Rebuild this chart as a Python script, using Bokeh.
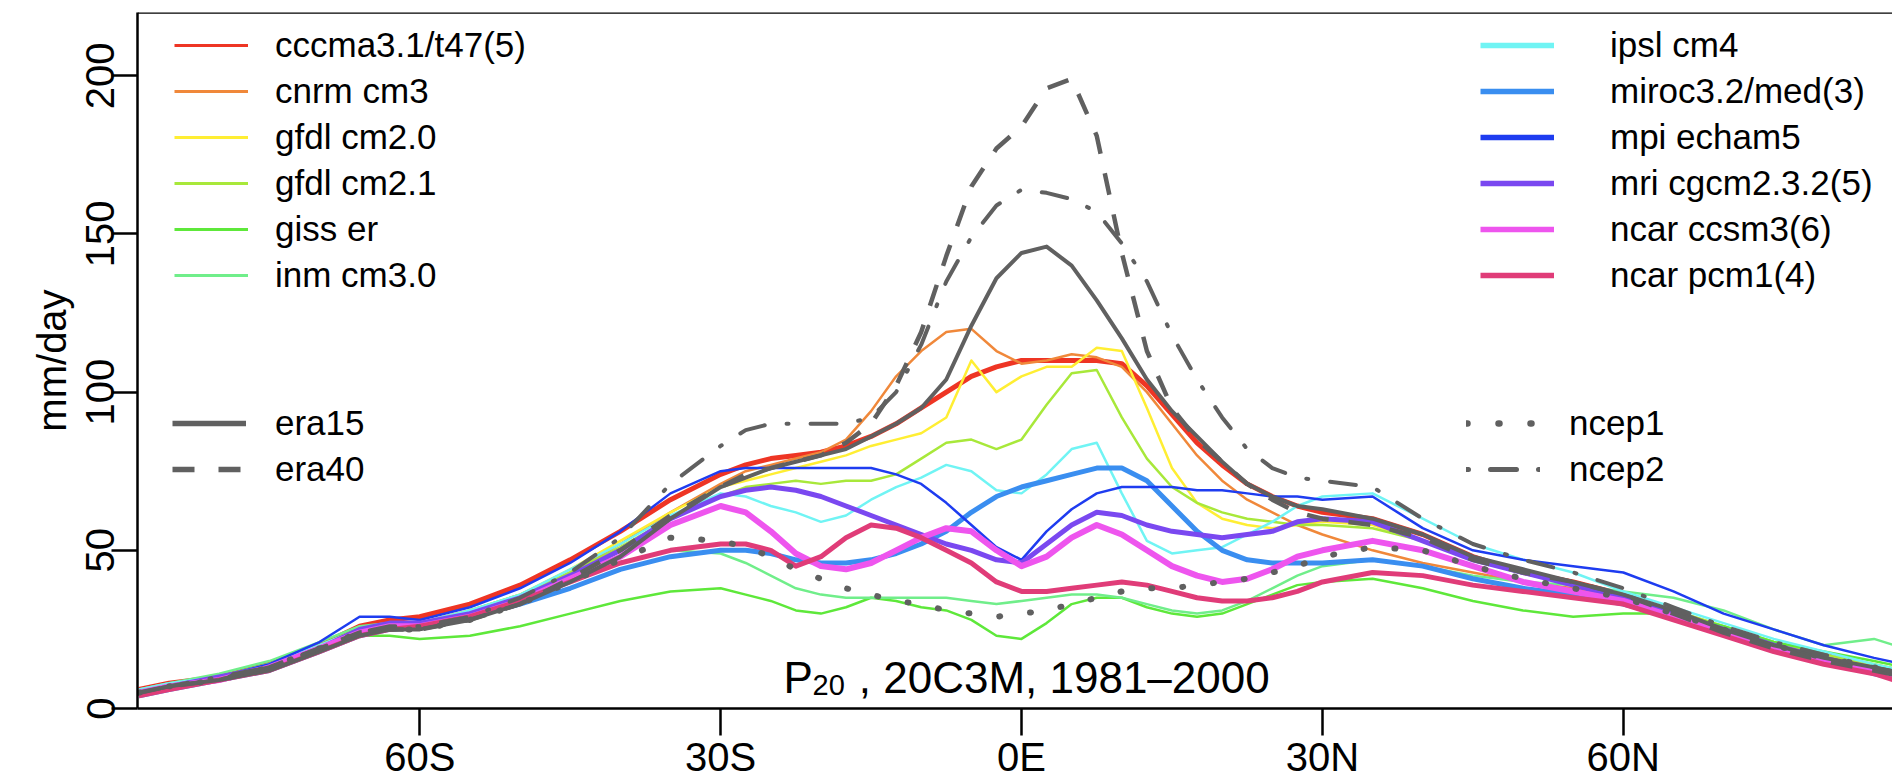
from bokeh.plotting import figure
from bokeh.models import Legend, LegendItem, Label, Span, FixedTicker, Range1d, ColumnDataSource
from bokeh.embed import file_html
from bokeh.resources import INLINE

# ---------------- data ----------------
LAT = [-88, -85, -80, -75, -70, -66, -63, -60, -55, -50, -45, -40, -35, -30,
       -27.5, -25, -22.5, -20, -17.5, -15, -12.5, -10, -7.5, -5, -2.5, 0,
       2.5, 5, 7.5, 10, 12.5, 15, 17.5, 20, 22.5, 25, 27.5, 30,
       35, 40, 45, 50, 55, 60, 65, 70, 75, 80, 85, 88]

CCCMA = [6, 8, 10, 14, 20, 26, 28, 29, 33, 39, 47, 56, 66, 74,
         77, 79, 80, 81, 83, 86, 90, 95, 100, 105, 108, 110,
         110, 110, 110, 109, 102, 93, 84, 77, 71, 67, 64, 62,
         60, 55, 48, 43, 40, 36, 30, 25, 20, 17, 13, 11]
CNRM = [5, 7, 9, 13, 19, 24, 26, 26, 30, 35, 43, 52, 62, 71,
        75, 77, 79, 81, 85, 94, 105, 113, 119, 120, 113, 109,
        110, 112, 111, 108, 100, 90, 80, 72, 66, 62, 58, 55,
        50, 46, 43, 40, 38, 35, 30, 25, 20, 16, 13, 11]
GFDL20 = [5, 7, 10, 13, 19, 25, 27, 27, 31, 36, 44, 53, 62, 70,
          72, 74, 76, 78, 80, 83, 85, 87, 92, 110, 100, 105,
          108, 108, 114, 113, 95, 76, 65, 60, 58, 57, 58, 59,
          58, 53, 47, 43, 40, 36, 31, 26, 21, 17, 14, 12]
GFDL21 = [5, 7, 10, 14, 20, 25, 27, 27, 31, 36, 43, 51, 60, 67,
          70, 71, 72, 71, 72, 72, 74, 79, 84, 85, 82, 85,
          96, 106, 107, 92, 79, 70, 65, 62, 60, 59, 58, 58,
          57, 53, 47, 43, 40, 36, 31, 26, 21, 17, 14, 12]
GISS = [5, 7, 10, 14, 19, 23, 23, 22, 23, 26, 30, 34, 37, 38,
        36, 34, 31, 30, 32, 35, 34, 32, 31, 28, 23, 22,
        27, 33, 35, 35, 32, 30, 29, 30, 33, 36, 39, 40,
        41, 38, 34, 31, 29, 30, 30, 26, 21, 18, 15, 13]
INM = [6, 8, 11, 15, 21, 26, 27, 27, 30, 34, 40, 46, 50, 49,
       46, 42, 38, 36, 35, 35, 35, 35, 35, 34, 33, 34,
       35, 36, 36, 35, 33, 31, 30, 31, 34, 38, 42, 45,
       47, 45, 42, 40, 39, 37, 35, 31, 25, 20, 22, 19]
IPSL = [6, 8, 10, 14, 20, 25, 27, 27, 31, 36, 44, 52, 61, 68,
        67, 64, 62, 59, 61, 66, 70, 73, 77, 75, 69, 68,
        74, 82, 84, 68, 53, 49, 50, 51, 55, 59, 64, 67,
        68, 60, 52, 47, 43, 37, 32, 27, 22, 18, 14, 12]
MIROC = [4, 6, 9, 12, 18, 23, 25, 26, 29, 33, 38, 44, 48, 50,
         50, 49, 47, 46, 46, 47, 49, 52, 56, 62, 67, 70,
         72, 74, 76, 76, 72, 64, 56, 50, 47, 46, 46, 46,
         47, 45, 41, 38, 36, 33, 29, 24, 19, 15, 11, 9]
MPI = [4, 7, 10, 14, 21, 29, 29, 28, 32, 38, 46, 56, 68, 75,
       76, 76, 76, 76, 76, 76, 74, 71, 65, 58, 51, 47,
       56, 63, 68, 70, 70, 70, 69, 69, 68, 67, 67, 66,
       67, 57, 50, 47, 45, 43, 37, 30, 25, 20, 16, 14]
MRI = [5, 7, 10, 13, 19, 25, 27, 27, 30, 35, 42, 50, 60, 67,
       69, 70, 69, 67, 64, 61, 58, 55, 52, 50, 47, 46,
       52, 58, 62, 61, 58, 56, 55, 54, 55, 56, 59, 60,
       59, 53, 47, 43, 39, 35, 30, 25, 20, 16, 12, 10]
CCSM3 = [5, 7, 9, 13, 19, 24, 26, 26, 29, 34, 41, 48, 58, 64,
         62, 56, 49, 45, 44, 46, 50, 54, 57, 56, 50, 45,
         48, 54, 58, 55, 50, 45, 42, 40, 41, 44, 48, 50,
         53, 50, 45, 40, 37, 34, 29, 24, 19, 15, 12, 10]
PCM1 = [4, 6, 9, 12, 18, 23, 25, 26, 29, 34, 40, 46, 50, 52,
        52, 50, 45, 48, 54, 58, 57, 54, 50, 46, 40, 37,
        37, 38, 39, 40, 39, 37, 35, 34, 34, 35, 37, 40,
        43, 42, 39, 37, 35, 33, 28, 23, 18, 14, 11, 8]
ERA15 = [5, 7, 9, 12, 18, 23, 25, 25, 28, 33, 40, 48, 60, 70,
         73, 76, 78, 80, 82, 86, 90, 95, 104, 121, 136, 144,
         146, 140, 129, 117, 104, 94, 86, 78, 71, 67, 64, 63,
         60, 55, 48, 44, 40, 36, 31, 25, 20, 16, 13, 11]
ERA40 = [5, 7, 9, 13, 19, 24, 25, 25, 28, 33, 41, 50, 61, 70,
         74, 76, 78, 80, 84, 90, 102, 119, 143, 165, 177, 184,
         196, 199, 181, 144, 113, 95, 85, 78, 71, 66, 62, 60,
         58, 54, 47, 43, 40, 36, 30, 24, 19, 15, 12, 10]
NCEP1 = [5, 7, 9, 13, 19, 24, 25, 25, 28, 33, 40, 47, 54, 53,
         51, 48, 44, 41, 38, 36, 34, 33, 31, 30, 29, 30,
         31, 33, 35, 37, 38, 38, 39, 40, 41, 43, 45, 48,
         51, 50, 45, 41, 38, 35, 30, 25, 20, 16, 13, 11]
NCEP2 = [5, 7, 10, 13, 19, 24, 26, 26, 29, 35, 43, 54, 71, 83,
         88, 90, 90, 90, 90, 92, 100, 115, 135, 149, 159, 164,
         163, 161, 157, 147, 135, 118, 104, 92, 82, 76, 73, 72,
         70, 60, 52, 47, 43, 38, 32, 26, 21, 17, 13, 11]

MODEL_NAMES = ["cccma3.1/t47(5)", "cnrm cm3", "gfdl cm2.0", "gfdl cm2.1", "giss er", "inm cm3.0",
               "ipsl cm4", "miroc3.2/med(3)", "mpi echam5", "mri cgcm2.3.2(5)", "ncar ccsm3(6)",
               "ncar pcm1(4)"]
MODEL_VALUES = [CCCMA, CNRM, GFDL20, GFDL21, GISS, INM, IPSL, MIROC, MPI, MRI, CCSM3, PCM1]
REAN_NAMES = ["era15", "era40", "ncep1", "ncep2"]
REAN_VALUES = [ERA15, ERA40, NCEP1, NCEP2]

XTICKS = [-60, -30, 0, 30, 60]
XTICK_LABELS = ["60S", "30S", "0E", "30N", "60N"]
YTICKS = [0, 50, 100, 150, 200]

# ---------------- styles ----------------
MODEL_COLORS = ["#EE3524", "#F0883A", "#FFEE33", "#A8E83A", "#5EE83A", "#70EE8A",
                "#70F4F4", "#3A8EF0", "#1E3CF0", "#7A48F0", "#EE55EE", "#E03C78"]
MODEL_WIDTHS = [5, 2.5, 2.5, 2.5, 2.5, 2.5, 2.5, 5, 2.5, 5, 6, 5]
LEGEND_WIDTHS = [3, 3, 3, 3, 3, 3, 5.5, 5.5, 5.5, 5.5, 5.5, 5.5]
GRAY = "#606060"
REAN_STYLE = [dict(line_width=4, line_dash="solid"),
              dict(line_width=4.5, line_dash="22 20"),
              dict(line_width=6, line_dash="1 30", line_cap="round"),
              dict(line_width=4, line_dash="2 22 26 22", line_cap="round")]
REAN_LEGEND_STYLE = [dict(line_width=5.5, line_dash="solid"),
                     dict(line_width=5.5, line_dash="22 24"),
                     dict(line_width=6.5, line_dash="1 31", line_cap="round"),
                     dict(line_width=5, line_dash="2 22 26 22", line_cap="round")]
FONT = "Liberation Sans"

p = figure(width=1892, height=783, output_backend="svg", toolbar_location=None,
           x_range=Range1d(-88.14, 86.84), y_range=Range1d(0, 220),
           min_border_left=137, min_border_right=0, min_border_top=12, min_border_bottom=75)
p.outline_line_color = None
p.grid.visible = False

model_r, model_leg = [], []
for name, vals, col, lw, llw in zip(MODEL_NAMES, MODEL_VALUES, MODEL_COLORS, MODEL_WIDTHS,
                                     LEGEND_WIDTHS):
    src = ColumnDataSource(dict(x=LAT, y=vals))
    r = p.line("x", "y", source=src, line_color=col, line_width=lw, line_join="round")
    model_r.append(r)
    # legend-only swatch (same data, hidden in the plot) so the key line width matches
    lr = p.line("x", "y", source=src, line_color=col, line_width=llw, visible=False)
    model_leg.append(lr)

rean_r, rean_leg = [], []
for name, vals, st, lst in zip(REAN_NAMES, REAN_VALUES, REAN_STYLE, REAN_LEGEND_STYLE):
    src = ColumnDataSource(dict(x=LAT, y=vals))
    r = p.line("x", "y", source=src, line_color=GRAY, line_join="round", **st)
    rean_r.append(r)
    lr = p.line("x", "y", source=src, line_color=GRAY, visible=False, **lst)
    rean_leg.append(lr)

# axes
p.xaxis.ticker = FixedTicker(ticks=XTICKS)
p.xaxis.major_label_overrides = {t: l for t, l in zip(XTICKS, XTICK_LABELS)}
p.yaxis.ticker = FixedTicker(ticks=YTICKS)
p.yaxis.major_label_orientation = "vertical"
p.yaxis.axis_label = "mm/day"
for ax, tout, so in ((p.xaxis[0], 27, -1), (p.yaxis[0], 26, -3)):
    ax.axis_line_width = 2.5
    ax.axis_line_color = "black"
    ax.major_tick_line_width = 2.5
    ax.major_tick_line_color = "black"
    ax.major_tick_in = 0
    ax.major_tick_out = tout
    ax.minor_tick_line_color = None
    ax.major_label_text_font = FONT
    ax.major_label_text_font_size = "40px"
    ax.major_label_text_color = "black"
    ax.major_label_standoff = so
p.yaxis.axis_label_text_font = FONT
p.yaxis.axis_label_text_font_size = "40px"
p.yaxis.axis_label_text_font_style = "normal"
p.yaxis.axis_label_text_color = "black"
p.yaxis.axis_label_standoff = 10

p.add_layout(Span(location=220, dimension="width", line_color="black", line_width=2.5))

# panel caption: P_20 , 20C3M, 1981-2000
p.add_layout(Label(x=0, y=0, x_offset=-238, y_offset=31, text="P", text_font=FONT,
                   text_font_size="44px", text_color="black", text_baseline="alphabetic"))
p.add_layout(Label(x=0, y=0, x_offset=-209, y_offset=24, text="20", text_font=FONT,
                   text_font_size="29px", text_color="black", text_baseline="alphabetic"))
p.add_layout(Label(x=0, y=0, x_offset=-175, y_offset=31, text="\u00a0, 20C3M, 1981\u20132000",
                   text_font=FONT, text_font_size="44px", text_color="black",
                   text_baseline="alphabetic"))


def add_legend(names, rends, loc, standoff):
    items = [LegendItem(label=n, renderers=[r]) for n, r in zip(names, rends)]
    leg = Legend(items=items, location=loc, orientation="vertical",
                 glyph_width=74, glyph_height=46, label_height=46, label_standoff=standoff,
                 spacing=0, padding=0, margin=0,
                 label_text_font=FONT, label_text_font_size="35px", label_text_color="black",
                 background_fill_alpha=0, border_line_alpha=0,
                 inactive_fill_alpha=0, click_policy="none")
    p.add_layout(leg)


add_legend(MODEL_NAMES[:6], model_leg[:6], (37, 410), 27)
add_legend(MODEL_NAMES[6:], model_leg[6:], (1343, 410), 56)
add_legend(REAN_NAMES[:2], rean_leg[:2], (35, 216), 29)
add_legend(REAN_NAMES[2:], rean_leg[2:], (1329, 216), 29)

open("out.html", "w").write(file_html(p, INLINE))
